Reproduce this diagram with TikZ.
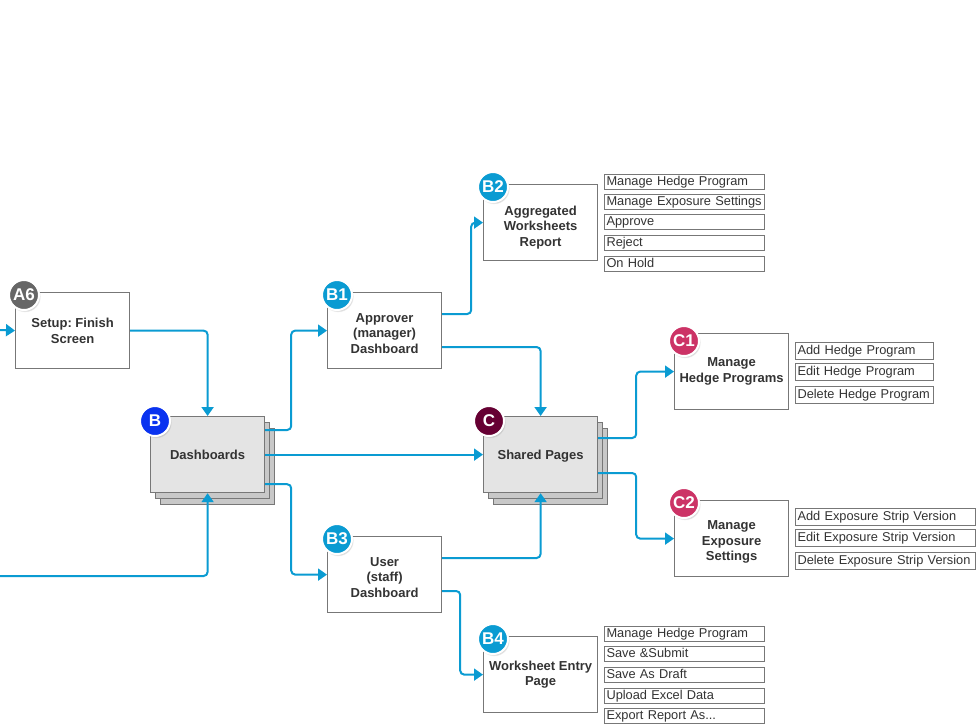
\documentclass[tikz,border=0pt]{standalone}
\usepackage{fontspec}
\setmainfont{Liberation Sans}
\frenchspacing
\usetikzlibrary{arrows.meta,shadows,calc}
\newcommand\tup[1]{\rule{0pt}{#1}}
\definecolor{conncol}{HTML}{0A9BD2}
\definecolor{boxline}{HTML}{777777}
\definecolor{txtcol}{HTML}{333333}
\definecolor{frontfill}{HTML}{E4E4E4}
\definecolor{backfill}{HTML}{C8C8C8}
\definecolor{badgeA}{HTML}{666666}
\definecolor{badgeB}{HTML}{0A33F0}
\definecolor{badgeBn}{HTML}{0A9BD2}
\definecolor{badgeC}{HTML}{660033}
\definecolor{badgeCn}{HTML}{CC3366}
\tikzset{
  pagebox/.style={draw=boxline, line width=1.2pt, fill=white, minimum width=114pt, minimum height=76pt,
    inner sep=0pt, align=center, text=txtcol, font=\fontsize{13}{15.5}\selectfont\bfseries},
  stackbox/.style={pagebox, fill=frontfill,
    double copy shadow={shadow xshift=5pt, shadow yshift=-6pt, fill=backfill, draw=boxline, line width=1.2pt}},
  badge/.style={circle, draw=white, line width=2pt, minimum size=30pt, inner sep=0pt, text=white,
    font=\fontsize{17}{17}\selectfont\bfseries, circular drop shadow={shadow xshift=1pt, shadow yshift=-1.5pt, shadow scale=1.05, opacity=.35}},
  item/.style={draw=boxline, line width=1pt, fill=white, anchor=north west, inner xsep=2pt, inner ysep=0pt,
    text width=156pt, align=left, minimum height=15pt, text height=10pt, text depth=3pt, text=txtcol,
    font=\fontsize{12.8}{15}\selectfont},
  talli/.style={item, minimum height=17pt},
  conn/.style={draw=conncol, line width=2pt, rounded corners=4pt, -{Triangle[length=9pt,width=12pt]}},
}
\begin{document}
\begin{tikzpicture}[x=1pt,y=-1pt]
\useasboundingbox (0,0) rectangle (976,724);
% main pages
\node[pagebox, anchor=north west] (A6) at (15,292) {Setup: Finish\\Screen};
\node[stackbox, anchor=north west] (B) at (150,416) {Dashboards};
\node[pagebox, anchor=north west] (B1) at (327,292) {\tup{14pt}Approver\\(manager)\\Dashboard};
\node[pagebox, anchor=north west] (B2) at (483,184) {\tup{19pt}Aggregated\\Worksheets\\Report};
\node[stackbox, anchor=north west] (C) at (483,416) {\tup{12pt}Shared Pages};
\node[pagebox, anchor=north west] (B3) at (327,536) {\tup{14pt}User\\(staff)\\Dashboard};
\node[pagebox, anchor=north west] (B4) at (483,636) {Worksheet Entry\\Page};
\node[pagebox, anchor=north west] (C1) at (674,333) {Manage\\Hedge Programs};
\node[pagebox, anchor=north west] (C2) at (674,500) {\tup{16pt}Manage\\Exposure\\Settings};
% badges
\node[badge, fill=badgeA] (bA6) at (24,295) {A6};
\node[badge, fill=badgeB] (bB) at (155,421) {B};
\node[badge, fill=badgeBn] (bB1) at (337,295) {B1};
\node[badge, fill=badgeBn] (bB2) at (493,187) {B2};
\node[badge, fill=badgeC] (bC) at (489,421) {C};
\node[badge, fill=badgeBn] (bB3) at (337,539) {B3};
\node[badge, fill=badgeBn] (bB4) at (493,639) {B4};
\node[badge, fill=badgeCn] (bC1) at (684,341) {C1};
\node[badge, fill=badgeCn] (bC2) at (684,503) {C2};
% item lists
\node[item] (l21) at (604,174) {Manage Hedge Program};
\node[item] (l22) at (604,194) {Manage Exposure Settings};
\node[item] (l23) at (604,214) {Approve};
\node[item] (l24) at (604,235) {Reject};
\node[item] (l25) at (604,256) {On Hold};
\node[talli, text width=134pt] (l31) at (795,342) {Add Hedge Program};
\node[talli, text width=134pt] (l32) at (795,363) {Edit Hedge Program};
\node[talli, text width=134pt] (l33) at (795,386) {Delete Hedge Program};
\node[talli, text width=176pt] (l41) at (795,508) {Add Exposure Strip Version};
\node[talli, text width=176pt] (l42) at (795,529) {Edit Exposure Strip Version};
\node[talli, text width=176pt] (l43) at (795,552) {Delete Exposure Strip Version};
\node[item] (l51) at (604,626) {Manage Hedge Program};
\node[item] (l52) at (604,646) {Save \&Submit};
\node[item] (l53) at (604,667) {Save As Draft};
\node[item] (l54) at (604,688) {Upload Excel Data};
\node[item] (l55) at (604,708) {Export Report As...};
% connectors
\coordinate (in1) at (0,330);
\coordinate (in2) at (0,576);
\draw[conn] (in1) -- (A6.west);
\draw[conn] (in2) -| (B.south);
\draw[conn] (A6.east) -| (B.north);
\draw[conn] ($(B.north east)+(0,14)$) -- ++(26,0) |- (B1.west);
\draw[conn] (B.east) -- (C.west);
\draw[conn] ($(B.south east)+(0,-9)$) -- ++(26,0) |- (B3.west);
\draw[conn] ($(B1.north east)+(0,22)$) -- ++(29,0) |- (B2.west);
\draw[conn] ($(B1.north east)+(0,55)$) -| (C.north);
\draw[conn] ($(B3.north east)+(0,22)$) -| (C.south);
\draw[conn] ($(B3.north east)+(0,55)$) -- ++(18,0) |- (B4.west);
\draw[conn] ($(C.north east)+(0,22)$) -- ++(38,0) |- (C1.west);
\draw[conn] ($(C.north east)+(0,57)$) -- ++(38,0) |- (C2.west);
\end{tikzpicture}
\end{document}
